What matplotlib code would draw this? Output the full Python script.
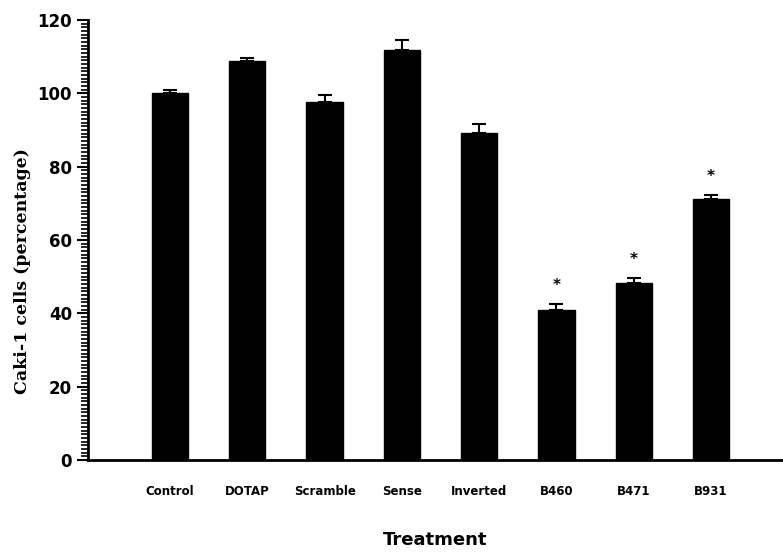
import matplotlib
matplotlib.use("Agg")
import matplotlib.pyplot as plt
import numpy as np
from matplotlib.ticker import MultipleLocator

treatments = ["Control", "DOTAP", "Scramble", "Sense", "Inverted", "B460", "B471", "B931"]
cell_pct = [100.0, 108.7, 97.6, 111.9, 89.3, 41.0, 48.2, 71.2]
sem = [1.0, 1.0, 1.8, 2.6, 2.4, 1.5, 1.4, 1.0]
significant = [False, False, False, False, False, True, True, True]


def main() -> None:
    fig = plt.figure(figsize=(7.83, 5.54), dpi=100)
    ax = fig.add_axes([0.1124, 0.1697, 0.8876, 0.7943])

    x = np.arange(len(treatments))
    ax.bar(x, cell_pct, 0.47, color="black", edgecolor="black", zorder=2)
    ax.errorbar(x, cell_pct, yerr=[np.zeros(len(sem)), sem], fmt="none",
                ecolor="black", elinewidth=1.5, capsize=5, capthick=1.5, zorder=3)

    # significance stars above error caps
    for xi, v, e, s in zip(x, cell_pct, sem, significant):
        if s:
            ax.text(xi, v + e + 5, "*", ha="center", va="center",
                    fontsize=11, fontweight="bold")

    ax.set_xlim(-1.06, 7.93)
    ax.set_ylim(0, 120)
    ax.yaxis.set_major_locator(MultipleLocator(20))
    ax.yaxis.set_minor_locator(MultipleLocator(1))
    ax.tick_params(axis="y", which="major", length=8, width=1.5, labelsize=12)
    ax.tick_params(axis="y", which="minor", length=5, width=1.2)
    ax.tick_params(axis="x", length=0, pad=18, labelsize=8.5)
    for lbl in ax.get_yticklabels():
        lbl.set_fontweight("bold")

    ax.set_xticks(x)
    ax.set_xticklabels(treatments, fontweight="bold")

    ax.spines[["top", "right"]].set_visible(False)
    ax.spines["left"].set_linewidth(2)
    ax.spines["bottom"].set_linewidth(2)

    ax.set_ylabel("Caki-1 cells (percentage)", fontsize=12.5, fontweight="bold",
                  family="DejaVu Serif")
    ax.yaxis.set_label_coords(-0.082, 0.43)
    ax.set_xlabel("Treatment", fontsize=13, fontweight="bold", labelpad=24)

    fig.savefig("out.png", dpi=100)


if __name__ == "__main__":
    main()
